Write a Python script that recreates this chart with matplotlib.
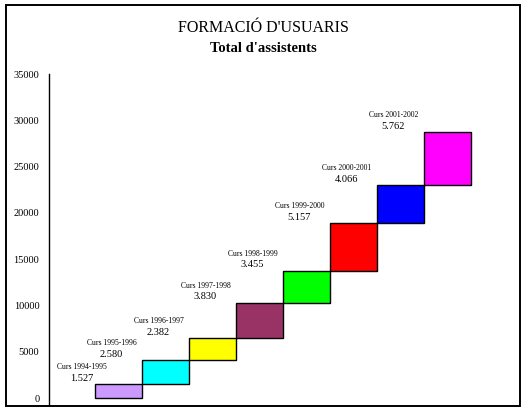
import matplotlib
matplotlib.use("Agg")
import matplotlib.pyplot as plt
from matplotlib.patches import Rectangle

cursos = ["Curs 1994-1995", "Curs 1995-1996", "Curs 1996-1997", "Curs 1997-1998",
          "Curs 1998-1999", "Curs 1999-2000", "Curs 2000-2001", "Curs 2001-2002"]
assistents = [1527, 2580, 2382, 3830, 3455, 5157, 4066, 5762]
etiquetes = ["1.527", "2.580", "2.382", "3.830", "3.455", "5.157", "4.066", "5.762"]
colors = ["#CC99FF", "#00FFFF", "#FFFF00", "#993366",
          "#00FF00", "#FF0000", "#0000FF", "#FF00FF"]
yticks = [0, 5000, 10000, 15000, 20000, 25000, 30000, 35000]

plt.rcParams["font.family"] = ["Liberation Serif", "DejaVu Serif"]

fig = plt.figure(figsize=(5.26, 4.12), dpi=100)
# marc exterior
fig.patches.append(Rectangle((6 / 526, 6 / 412), 514 / 526, 401 / 412,
                             transform=fig.transFigure, fill=False,
                             edgecolor="black", linewidth=1.4))

ax = fig.add_axes([49 / 526, 7 / 412, 471 / 526, 331 / 412])

# cascada: cada barra comenca on acaba l'anterior
base = 0
for i, (val, col) in enumerate(zip(assistents, colors)):
    ax.bar(i, val, bottom=base, width=1.0, color=col, edgecolor="black", linewidth=1.0)
    top = base + val
    dx = -0.78 if i == 0 else -1.15
    ax.annotate(cursos[i], (i + dx, top), xytext=(0, 12), textcoords="offset points",
                ha="center", va="center", fontsize=5.5)
    ax.annotate(etiquetes[i], (i + dx, top), xytext=(0, 4), textcoords="offset points",
                ha="center", va="center", fontsize=7.5)
    base = top

ax.set_xlim(-1.479, 8.543)
ax.set_ylim(-750, 35000)
ax.set_yticks(yticks)
ax.set_yticklabels([str(t) for t in yticks], fontsize=7.5)
ax.tick_params(axis="y", length=0, pad=7)
ax.set_xticks([])
for s in ["top", "right", "bottom"]:
    ax.spines[s].set_visible(False)
ax.spines["left"].set_linewidth(1.0)

fig.text(0.5, 1 - 28 / 412, "FORMACIÓ D'USUARIS", ha="center", va="center", fontsize=11.5)
fig.text(0.5, 1 - 48 / 412, "Total d'assistents", ha="center", va="center",
         fontsize=10.5, fontweight="bold")

fig.savefig("out.png", dpi=100)
